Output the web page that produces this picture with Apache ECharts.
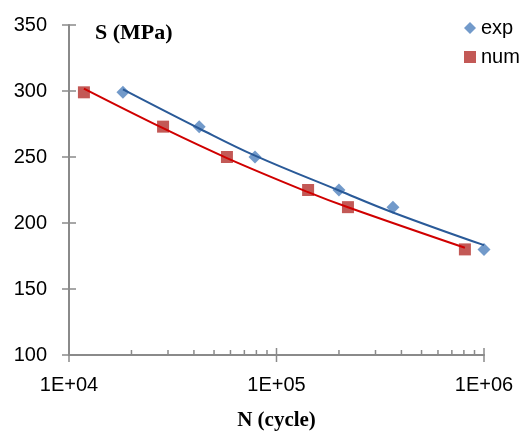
<!DOCTYPE html>
<html>
<head>
<meta charset="utf-8">
<script src="https://cdn.jsdelivr.net/npm/echarts@6/dist/echarts.min.js"></script>
<style>
  html, body { margin: 0; padding: 0; background: #fff; }
  #chart { width: 519px; height: 439px; }
</style>
</head>
<body>
<div id="chart"></div>
<script>
// measured points (N in cycles, S in MPa)
const expN = [18200, 42400, 78800, 200000, 364000, 1000000];
const expS = [299, 273, 250, 225, 212, 180];
const numN = [11800, 28400, 57700, 142000, 221000, 809000];
const numS = [299, 273, 250, 225, 212, 180];

// trend lines, at the same N values
const expTrend = [301.2, 271.6, 251, 224.6, 208, 183.2];
const numTrend = [301.8, 271.8, 249.2, 223.4, 211.9, 181.2];

// axis ticks
const xTicks = [10000, 20000, 30000, 40000, 50000, 60000, 70000, 80000, 90000,
  100000, 200000, 300000, 400000, 500000, 600000, 700000, 800000, 900000, 1000000];
const xMajor = [10000, 100000, 1000000];
const yTicks = [100, 150, 200, 250, 300, 350];

const axisGray = "#8a8a8a";
const myChart = echarts.init(document.getElementById("chart"));

const zip = (a, b) => a.map((v, i) => [v, b[i]]);

// tick marks drawn through the axes' own scales
const xTickItem = function (params, api) {
  const v = api.value(0);
  const p = api.coord([v, 100]);
  const major = xMajor.indexOf(v) >= 0;
  return {
    type: "line",
    shape: { x1: p[0], y1: p[1] + (major ? 7 : 0), x2: p[0], y2: p[1] - (major ? 7 : 5) },
    style: { stroke: axisGray, lineWidth: 1.5 },
  };
};
const yTickItem = function (params, api) {
  const p = api.coord([10000, api.value(1)]);
  return {
    type: "line",
    shape: { x1: p[0] - 7, y1: p[1], x2: p[0] + 7, y2: p[1] },
    style: { stroke: axisGray, lineWidth: 1.5 },
  };
};

let option = {
  animation: false,
  grid: { left: 69, right: 35, top: 25, bottom: 84 },
  title: {
    text: "S (MPa)",
    left: 90,
    top: 17,
    textStyle: { fontFamily: "Liberation Serif", fontWeight: "bold", fontSize: 22, color: "#000" },
  },
  legend: {
    orient: "vertical",
    left: 459,
    top: 13,
    itemWidth: 12,
    itemHeight: 12,
    itemGap: 9,
    data: ["exp", "num"],
    textStyle: { fontFamily: "Liberation Sans", fontSize: 20, color: "#000" },
  },
  xAxis: {
    type: "log",
    logBase: 10,
    min: 10000,
    max: 1000000,
    name: "N (cycle)",
    nameLocation: "middle",
    nameGap: 55,
    nameTextStyle: { fontFamily: "Liberation Serif", fontWeight: "bold", fontSize: 21, color: "#000" },
    axisLine: { lineStyle: { color: axisGray, width: 2 } },
    axisTick: { show: false },
    splitLine: { show: false },
    axisLabel: {
      margin: 20,
      fontFamily: "Liberation Sans",
      fontSize: 20,
      color: "#000",
      formatter: function (v) {
        return "1E+0" + Math.round(Math.log10(v));
      },
    },
  },
  yAxis: {
    type: "value",
    min: 100,
    max: 350,
    interval: 50,
    axisLine: { show: true, lineStyle: { color: axisGray, width: 2 } },
    axisTick: { show: false },
    splitLine: { show: false },
    axisLabel: { margin: 22, fontFamily: "Liberation Sans", fontSize: 20, color: "#000" },
  },
  series: [
    {
      name: "exp",
      type: "scatter",
      symbol: "diamond",
      symbolSize: 13,
      itemStyle: { color: "#4F81BD" },
      data: zip(expN, expS),
      z: 2,
    },
    {
      name: "num",
      type: "scatter",
      symbol: "rect",
      symbolSize: 12,
      itemStyle: { color: "#C0504D", opacity: 0.95 },
      data: zip(numN, numS),
      z: 2,
    },
    {
      name: "expTrend",
      type: "line",
      smooth: 0.4,
      showSymbol: false,
      lineStyle: { color: "#2A5A98", width: 2 },
      data: zip(expN, expTrend),
      z: 3,
    },
    {
      name: "numTrend",
      type: "line",
      smooth: 0.4,
      showSymbol: false,
      lineStyle: { color: "#D00000", width: 2 },
      data: zip(numN, numTrend),
      z: 3,
    },
    {
      type: "custom",
      clip: false,
      renderItem: xTickItem,
      data: xTicks.map((v) => [v, 100]),
      z: 4,
    },
    {
      type: "custom",
      clip: false,
      renderItem: yTickItem,
      data: yTicks.map((v) => [10000, v]),
      z: 4,
    },
  ],
};

option && myChart.setOption(option);
</script>
</body>
</html>
